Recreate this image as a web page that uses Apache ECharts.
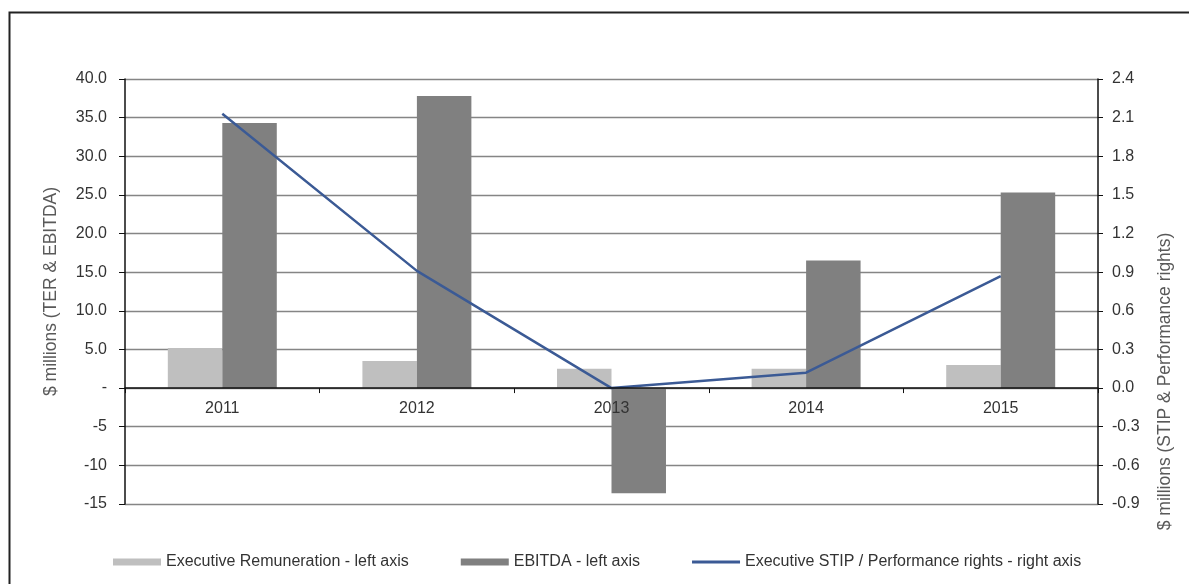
<!DOCTYPE html>
<html>
<head>
<meta charset="utf-8">
<script src="https://cdn.jsdelivr.net/npm/echarts@6/dist/echarts.min.js"></script>
<style>
  html, body { margin: 0; padding: 0; background: #fff; }
  #chart { width: 1189px; height: 584px; }
</style>
</head>
<body>
<div id="chart"></div>
<script>
// categories
const years = ["2011", "2012", "2013", "2014", "2015"];
// left axis ($ millions)
const execRemuneration = [5.2, 3.5, 2.5, 2.5, 3.0];
const ebitda = [34.3, 37.8, -13.6, 16.5, 25.3];
// right axis ($ millions)
const stipRights = [2.13, 0.91, 0.0, 0.12, 0.87];
// left axis range
const leftMin = -15;
const leftMax = 40;

const font = "Liberation Sans, Arial, sans-serif";

const chart = echarts.init(document.getElementById("chart"));

// grid box, the category axis sits on the zero line of the left axis
const gridTop = 79;
const gridBottom = 80;
const gridHeight = 584 - gridTop - gridBottom;
const zeroOffset = -(gridHeight * (0 - leftMin)) / (leftMax - leftMin);

const option = {
  animation: false,
  textStyle: { fontFamily: font },
  graphic: [
    {
      type: "rect",
      shape: { x: 9.5, y: 12.5, width: 1300, height: 700 },
      style: { fill: "none", stroke: "#222", lineWidth: 2 },
      silent: true,
    },
  ],
  grid: {
    left: 125,
    right: 91,
    top: gridTop,
    bottom: gridBottom,
  },
  legend: {
    left: 113,
    top: 554,
    padding: 0,
    itemWidth: 48,
    itemHeight: 7,
    itemGap: 52,
    textStyle: { color: "#333", fontSize: 16, fontFamily: font },
    data: [
      { name: "Executive Remuneration - left axis", icon: "rect" },
      { name: "EBITDA - left axis", icon: "rect" },
      {
        name: "Executive STIP / Performance rights - right axis",
        icon: "path://M0,0H48V3H0Z",
      },
    ],
  },
  xAxis: {
    type: "category",
    data: years,
    position: "bottom",
    offset: zeroOffset,
    z: 10,
    axisLine: {
      onZero: false,
      lineStyle: { color: "#111", width: 1.5 },
    },
    axisTick: { show: true, length: 5, lineStyle: { color: "#111" } },
    axisLabel: { color: "#333", fontSize: 16, margin: 13 },
  },
  yAxis: [
    {
      type: "value",
      min: leftMin,
      max: leftMax,
      interval: 5,
      name: "$ millions (TER & EBITDA)",
      nameLocation: "middle",
      nameGap: 65,
      nameTextStyle: { color: "#595959", fontSize: 17.5 },
      axisLine: { show: true, lineStyle: { color: "#111", width: 1.5 } },
      axisTick: { show: true, length: 6, lineStyle: { color: "#111" } },
      axisLabel: {
        color: "#333",
        fontSize: 16,
        margin: 18,
        formatter: (v) => (v > 0 ? v.toFixed(1) : v === 0 ? "-" : String(v)),
      },
      splitLine: { show: true, lineStyle: { color: "#858585", width: 1.3 } },
    },
    {
      type: "value",
      min: -0.9,
      max: 2.4,
      interval: 0.3,
      position: "right",
      name: "$ millions (STIP & Performance rights)",
      nameLocation: "middle",
      nameRotate: 90,
      nameGap: 58,
      nameTextStyle: {
        color: "#595959",
        fontSize: 17.5,
        padding: [0, 180, 0, 0],
      },
      axisLine: { show: true, lineStyle: { color: "#111", width: 1.5 } },
      axisTick: { show: true, length: 5, lineStyle: { color: "#111" } },
      axisLabel: {
        color: "#333",
        fontSize: 16,
        margin: 14,
        formatter: (v) => v.toFixed(1),
      },
      splitLine: { show: false },
    },
  ],
  series: [
    {
      name: "Executive Remuneration - left axis",
      type: "bar",
      yAxisIndex: 0,
      data: execRemuneration,
      barGap: "0%",
      barCategoryGap: "44%",
      itemStyle: { color: "#bfbfbf" },
    },
    {
      name: "EBITDA - left axis",
      type: "bar",
      yAxisIndex: 0,
      data: ebitda,
      barGap: "0%",
      barCategoryGap: "44%",
      itemStyle: { color: "#808080" },
    },
    {
      name: "Executive STIP / Performance rights - right axis",
      type: "line",
      yAxisIndex: 1,
      data: stipRights,
      symbol: "none",
      z: 5,
      lineStyle: { color: "#3b5a95", width: 2.5 },
      itemStyle: { color: "#3b5a95" },
    },
  ],
};

chart.setOption(option);
</script>
</body>
</html>
